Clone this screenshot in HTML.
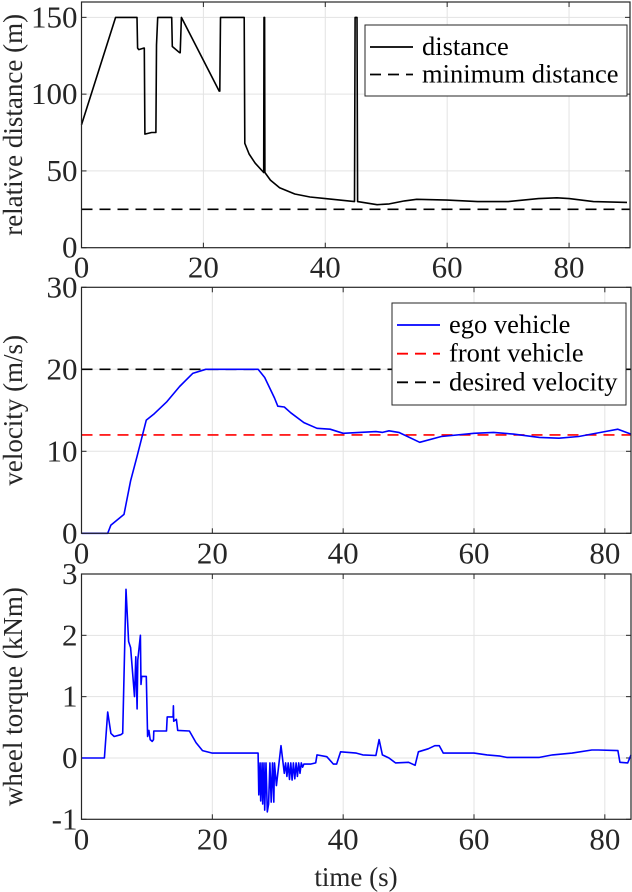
<!DOCTYPE html>
<html><head><meta charset="utf-8"><style>
html,body{margin:0;padding:0;background:#fff}
svg{display:block}
svg text{font-family:"Liberation Serif","Times New Roman",serif}
</style></head><body>
<svg id="fig" width="632" height="892" viewBox="0 0 632 892" xmlns="http://www.w3.org/2000/svg" font-family="Liberation Serif, serif"></svg>
<script>
const distT=[0,5.6,9.1,9.2,9.4,10.2,10.3,10.4,11.5,12.2,12.3,12.5,14.8,14.9,16.1,16.2,16.4,22.6,22.7,22.8,26.7,26.8,27.5,28.5,29.9,29.95,30.05,30.1,31,32.5,35,37.5,40,44.8,44.9,45.2,45.3,48.5,50.5,53,55,60,65,70,75,78,80,84,89.5];
const distV=[80,150,150,130,129,130,130,74,75,75,132,150,150,131,127,127,150,102,102,150,150,68,61,55,49,150,150,49,44,39,35,33,32,30,150,150,30,28,28.5,30.5,31.5,31,30,30,32,32.5,32,30,29.5];
const minDist=25;
const velT=[0,4,4.5,6.5,7.5,8.5,9.9,11,13,15,17,19,27,28,29.5,30,31,32,34,36,38,40,45,46,47,48.5,51.7,55,60,63,66,70,73,76,80,82,84];
const velV=[0,0,1,2.3,6.4,9.4,13.8,14.5,16,17.9,19.5,20,20,19,16.5,15.5,15.4,14.7,13.5,12.8,12.7,12.2,12.4,12.3,12.5,12.3,11.1,11.8,12.2,12.3,12.1,11.7,11.6,11.8,12.4,12.7,12.1];
const frontV=12, desiredV=20;
const torT=[0,3.5,4,4.5,5,6,6.3,6.8,7.2,7.5,8.1,8.3,8.5,8.6,9,9.1,9.2,9.9,10.1,10.3,10.5,10.8,11,11.05,13,13.1,14,14.05,14.1,14.5,14.7,16.5,17.5,18.5,20,27,27.1,27.3,27.4,27.6,27.7,27.9,28,28.2,28.4,28.6,28.8,29,29.2,29.4,29.5,29.8,30.5,31,31.2,31.4,31.6,31.8,32,32.2,32.4,32.6,32.8,33,33.2,33.4,33.6,33.8,34,35,35.8,36,37.5,38.5,39,39.6,42,43,45,45.5,46,47,48,50,51,51.5,53,54,54.7,55.3,60,62,64,65,70,72,75,78,79,82,82.3,83.5,84];
const torV=[0,0,0.75,0.4,0.35,0.38,0.4,2.75,1.9,1.8,1.0,1.65,0.8,1.6,2.0,1.2,1.33,1.33,0.35,0.45,0.3,0.27,0.3,0.44,0.44,0.67,0.67,0.85,0.6,0.63,0.45,0.44,0.25,0.12,0.08,0.08,-0.6,-0.08,-0.7,-0.08,-0.75,-0.08,-0.85,-0.08,-0.88,-0.75,-0.08,-0.72,-0.08,-0.72,-0.08,-0.45,0.2,-0.25,-0.08,-0.3,-0.08,-0.35,-0.08,-0.36,-0.08,-0.34,-0.08,-0.3,-0.08,-0.25,-0.08,-0.15,-0.1,-0.1,-0.08,0.05,0.02,-0.1,-0.1,0.1,0.08,0.05,0.04,0.3,0.05,0.0,-0.08,-0.07,-0.12,0.1,0.15,0.2,0.2,0.08,0.08,0.05,0.03,0.01,0.01,0.05,0.08,0.13,0.13,0.12,-0.07,-0.08,0.05];
const xTicks=[0,20,40,60,80];
const distTicks=[0,50,100,150];
const velTicks=[0,10,20,30];
const torTicks=[-1,0,1,2,3];

const svg=document.getElementById('fig');
const NS='http://www.w3.org/2000/svg';
const FF='Liberation Serif, Times New Roman, serif';
function mk(tag,attrs,parent){const e=document.createElementNS(NS,tag);for(const k in attrs)e.setAttribute(k,attrs[k]);if(tag==='text')e.setAttribute('font-family',FF);(parent||svg).appendChild(e);return e;}
function axes(name,L,R,T,B,xmax,ymin,ymax,yTicks,ylabel){
  const g=mk('g',{});
  
  
  const sx=v=>L+(v/xmax)*(R-L);
  const sy=v=>B-(v-ymin)/(ymax-ymin)*(B-T);
  xTicks.forEach(t=>{const x=sx(t);
    if(t>0){const gl=mk('line',{x1:x,x2:x,y1:T,y2:B,stroke:'#e3e3e3','stroke-width':1},g);}
    mk('line',{x1:x,x2:x,y1:B,y2:B-5,stroke:'#262626'},g);mk('line',{x1:x,x2:x,y1:T,y2:T+5,stroke:'#262626'},g);
    const tx=mk('text',{x:x,y:B+30,'font-size':31,'text-anchor':'middle',fill:'#262626'},g);tx.textContent=t;
    });
  yTicks.forEach(t=>{const y=sy(t);
    if(t!==ymin&&y>T+1){const gl=mk('line',{x1:L,x2:R,y1:y,y2:y,stroke:'#e3e3e3','stroke-width':1},g);}
    mk('line',{x1:L,x2:L+5,y1:y,y2:y,stroke:'#262626'},g);mk('line',{x1:R,x2:R-5,y1:y,y2:y,stroke:'#262626'},g);
    const tx=mk('text',{x:L-4,y:y+10,'font-size':31,'text-anchor':'end',fill:'#262626'},g);tx.textContent=t;
    });
  const yl=mk('text',{x:0,y:0,'font-size':27,'text-anchor':'middle',fill:'#262626',transform:`translate(22,${(T+B)/2}) rotate(-90)`},g);
  yl.textContent=ylabel;
  
  return {g,sx,sy,L,R,T,B};
}
function frame(a){const r=mk('rect',{x:a.L,y:a.T,width:a.R-a.L,height:a.B-a.T,fill:'none',stroke:'#262626','stroke-width':1.2},a.g);}
function line(a,xs,ys,color,name,dash){
  const d=xs.map((x,i)=>(i?'L':'M')+a.sx(x).toFixed(1)+','+a.sy(ys[i]).toFixed(1)).join('');
  const p=mk('path',{d:d,fill:'none',stroke:color,'stroke-width':1.6,'stroke-linejoin':'round'},a.g);
  if(dash)p.setAttribute('stroke-dasharray',dash);
  
}
function hline(a,v,xmax,color,name){line(a,[0,xmax],[v,v],color,name,'11,7');}
function legend(a,x,y,w,h,items){
  const lg=mk('g',{},a.g);
  
  mk('rect',{x:x,y:y,width:w,height:h,fill:'#fff',stroke:'#262626','stroke-width':1},lg);
  items.forEach((it,i)=>{const yy=y+20+i*(h-16)/items.length+2;
    const ln=mk('line',{x1:x+5,x2:x+48,y1:yy,y2:yy,stroke:it[1],'stroke-width':1.8},lg);
    if(it[2])ln.setAttribute('stroke-dasharray','11,7');
    const t=mk('text',{x:x+57,y:yy+8,'font-size':26.5,fill:'#000'},lg);t.textContent=it[0];
    });
}
const a1=axes('distance-axes',81.5,630,2,247.7,90,0,160,distTicks,'relative distance (m)');
hline(a1,minDist,90,'#000','minimum-distance-line');
line(a1,distT,distV,'#000','distance-line');
frame(a1);
legend(a1,365,25,262,71,[['distance','#000',false],['minimum distance','#000',true]]);
const a2=axes('velocity-axes',81.5,631,287.3,533.3,84,0,30,velTicks,'velocity (m/s)');
hline(a2,desiredV,84,'#000','desired-velocity-line');
hline(a2,frontV,84,'#ff0000','front-vehicle-line');
line(a2,velT,velV,'#0000ff','ego-velocity-line');
frame(a2);
legend(a2,392,303,234,102,[['ego vehicle','#0000ff',false],['front vehicle','#ff0000',true],['desired velocity','#000',true]]);
const a3=axes('torque-axes',81.5,631,574,819.3,84,-1,3,torTicks,'wheel torque (kNm)');
line(a3,torT,torV,'#0000ff','wheel-torque-line');
frame(a3);
const xl=mk('text',{x:356,y:886,'font-size':27,'text-anchor':'middle',fill:'#262626'});
xl.textContent='time (s)';


</script>
</body></html>
